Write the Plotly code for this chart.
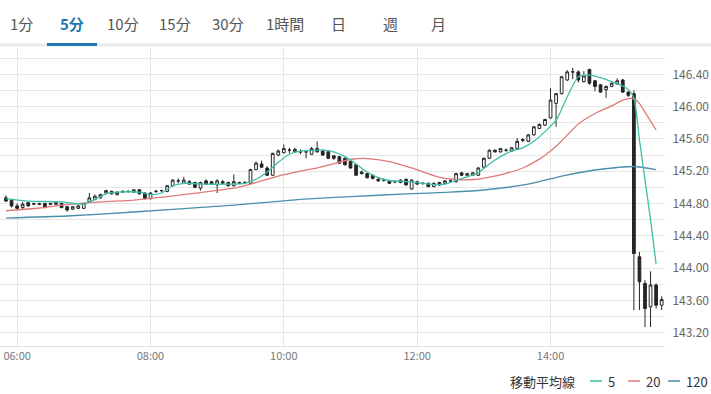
import plotly.graph_objects as go

DAY = "2024-04-29 "

# ---- candle data (5-minute bars) ----
start_times = []
h, m = 5, 50
for _ in range(119):
    start_times.append(f"{h:02d}:{m:02d}")
    m += 5
    if m == 60:
        h += 1
        m = 0
candle_time = [DAY + t for t in start_times]

open_ = [144.87,144.84,144.77,144.75,144.81,144.79,144.80,144.80,144.79,144.79,
         144.80,144.76,144.73,144.74,144.74,144.82,144.85,144.87,144.93,144.95,
         144.91,144.94,144.95,144.94,144.97,144.93,144.86,144.95,144.96,144.95,
         145.02,145.08,145.05,145.07,145.06,144.99,145.08,145.07,145.03,145.07,
         145.06,145.02,145.06,145.06,145.05,145.22,145.29,145.24,145.15,145.40,
         145.43,145.46,145.44,145.44,145.44,145.41,145.48,145.45,145.44,145.39,
         145.38,145.36,145.32,145.28,145.19,145.17,145.15,145.10,145.09,145.08,
         145.07,145.06,145.10,144.98,145.07,145.05,145.05,145.01,145.03,145.05,
         145.08,145.07,145.18,145.15,145.15,145.15,145.25,145.36,145.46,145.44,
         145.46,145.45,145.48,145.58,145.57,145.65,145.73,145.77,145.86,146.04,
         146.16,146.33,146.43,146.43,146.31,146.46,146.32,146.27,146.21,146.25,
         146.28,146.33,146.18,146.16,144.14,143.81,143.52,143.79,143.54]
high = [144.90,144.85,144.80,144.82,144.82,144.81,144.81,144.81,144.81,144.82,
        144.81,144.77,144.76,144.78,144.81,144.93,144.91,144.92,144.97,144.96,
        144.95,144.96,144.96,144.97,144.98,144.94,144.94,144.97,144.97,145.03,
        145.10,145.11,145.13,145.09,145.07,145.07,145.10,145.08,145.10,145.09,
        145.07,145.16,145.07,145.08,145.23,145.32,145.33,145.26,145.43,145.47,
        145.53,145.49,145.49,145.47,145.45,145.50,145.57,145.47,145.45,145.40,
        145.39,145.37,145.33,145.29,145.21,145.18,145.16,145.12,145.11,145.09,
        145.09,145.10,145.11,145.10,145.08,145.06,145.06,145.06,145.07,145.09,
        145.10,145.18,145.19,145.18,145.19,145.25,145.37,145.47,145.47,145.49,
        145.48,145.50,145.61,145.61,145.66,145.76,145.79,145.85,146.23,146.17,
        146.38,146.45,146.48,146.45,146.44,146.47,146.33,146.28,146.26,146.30,
        146.35,146.34,146.19,146.20,144.20,143.85,143.96,143.81,143.65]
low = [144.82,144.75,144.72,144.73,144.76,144.78,144.78,144.74,144.78,144.78,
       144.74,144.70,144.72,144.73,144.73,144.81,144.84,144.86,144.92,144.91,
       144.90,144.93,144.93,144.93,144.91,144.85,144.85,144.93,144.94,144.94,
       145.01,145.05,145.04,145.03,144.99,144.96,145.03,145.03,144.93,145.04,
       145.01,145.01,145.04,145.04,145.04,145.21,145.24,145.14,145.14,145.39,
       145.42,145.42,145.43,145.41,145.36,145.40,145.43,145.39,145.35,145.34,
       145.29,145.27,145.23,145.14,145.16,145.11,145.10,145.07,145.07,145.04,
       145.05,145.05,145.02,144.97,145.03,145.03,145.00,145.00,145.02,145.04,
       145.06,145.06,145.14,145.14,145.14,145.14,145.24,145.35,145.43,145.43,
       145.44,145.44,145.47,145.56,145.56,145.64,145.72,145.76,145.85,145.75,
       146.15,146.32,146.34,146.30,146.30,146.27,146.19,146.17,146.11,146.24,
       146.27,146.17,146.12,143.48,143.48,143.27,143.27,143.50,143.48]
close = [144.83,144.77,144.74,144.79,144.77,144.80,144.79,144.75,144.80,144.81,
         144.75,144.72,144.76,144.77,144.80,144.87,144.89,144.91,144.96,144.92,
         144.94,144.95,144.95,144.97,144.92,144.86,144.93,144.95,144.96,145.02,
         145.09,145.08,145.09,145.04,145.00,145.06,145.04,145.04,145.08,145.05,
         145.02,145.07,145.05,145.06,145.22,145.30,145.25,145.15,145.42,145.45,
         145.48,145.46,145.47,145.44,145.44,145.48,145.44,145.40,145.36,145.36,
         145.30,145.28,145.24,145.15,145.17,145.12,145.11,145.08,145.09,145.05,
         145.07,145.09,145.03,145.09,145.04,145.05,145.01,145.05,145.06,145.08,
         145.08,145.17,145.15,145.17,145.18,145.24,145.36,145.46,145.44,145.48,
         145.46,145.49,145.57,145.59,145.65,145.75,145.78,145.84,146.08,146.16,
         146.37,146.43,146.43,146.33,146.38,146.29,146.25,146.18,146.25,146.29,
         146.32,146.18,146.14,144.18,143.83,143.50,143.79,143.54,143.61]

# ---- moving averages ----
ma5_times = ["05:50","06:10","06:40","07:00","07:10","07:20","07:30","07:50","08:00",
             "08:10","08:20","08:30","08:50","09:10","09:25","09:35","09:45","09:55",
             "10:05","10:15","10:35","10:45","10:55","11:05","11:15","11:25","11:35",
             "11:55","12:15","12:25","12:35","12:45","12:55","13:05","13:15","13:25",
             "13:35","13:45","13:55","14:05","14:15","14:25","14:35","14:45","14:55",
             "15:05","15:10","15:15","15:20","15:25","15:30","15:35"]
ma5_vals = [144.86,144.83,144.82,144.79,144.85,144.92,144.94,144.94,144.91,
            144.93,145.02,145.05,145.04,145.04,145.05,145.10,145.19,145.31,
            145.41,145.45,145.46,145.44,145.38,145.29,145.19,145.12,145.085,
            145.067,145.035,145.04,145.085,145.13,145.18,145.29,145.38,145.45,
            145.49,145.57,145.69,145.83,146.12,146.37,146.39,146.36,146.31,
            146.255,146.21,146.11,145.59,145.09,144.60,144.05]

ma20_times = ["05:50","06:20","06:40","07:15","07:45","08:15","08:45","09:15","09:30",
              "09:55","10:35","11:00","11:15","11:35","11:55","12:20","12:35","12:50",
              "13:05","13:20","13:35","13:50","14:00","14:10","14:25","14:40","14:55",
              "15:05","15:10","15:15","15:20","15:25","15:30","15:35"]
ma20_vals = [144.71,144.744,144.78,144.82,144.843,144.884,144.936,144.99,145.04,
             145.14,145.258,145.345,145.357,145.32,145.24,145.125,145.097,145.097,
             145.128,145.174,145.24,145.35,145.45,145.574,145.785,145.915,146.01,
             146.08,146.10,146.10,146.04,145.93,145.82,145.71]

ma120_times = ["05:50","06:45","07:45","09:15","10:15","11:00","11:50","12:30","13:00",
               "13:40","14:10","14:40","15:00","15:15","15:35"]
ma120_vals = [144.62,144.645,144.695,144.78,144.85,144.886,144.918,144.94,144.967,
              145.04,145.14,145.215,145.246,145.258,145.22]

tabs = ["1分", "5分", "10分", "15分", "30分", "1時間", "日", "週", "月"]
tab_x = [22, 72, 123, 175, 228, 285, 338, 390, 438]
active_tab = "5分"

ytick_vals = [round(143.0 + 0.2 * k, 1) for k in range(19)]
ytick_text = [f"{v:.2f}" if round(v * 10) % 4 == 0 else "" for v in ytick_vals]

legend_title = "移動平均線"
legend_labels = ["5", "20", "120"]

C5, C20, C120 = "#3fbfa9", "#e07a78", "#4a8eab"
FONT = "Noto Sans CJK JP"

W, H = 711, 394
ML, MR, MT, MB = 0, 46, 48, 48
PW, PH = W - ML - MR, H - MT - MB

def px(x):
    return (x - ML) / PW

def py(y):
    return (H - MB - y) / PH

fig = go.Figure()
fig.add_trace(go.Candlestick(
    x=candle_time, open=open_, high=high, low=low, close=close,
    increasing=dict(fillcolor="#ffffff", line=dict(color="#262626", width=1)),
    decreasing=dict(fillcolor="#262626", line=dict(color="#262626", width=1)),
    whiskerwidth=0, hoverinfo="skip", showlegend=False,
))
for times, vals, col in [(ma120_times, ma120_vals, C120),
                         (ma20_times, ma20_vals, C20),
                         (ma5_times, ma5_vals, C5)]:
    fig.add_trace(go.Scatter(
        x=[DAY + t for t in times], y=vals, mode="lines",
        line=dict(color=col, width=1.3, shape="spline", smoothing=0.6),
        hoverinfo="skip", showlegend=False,
    ))

shapes = [
    dict(type="line", xref="paper", yref="paper", x0=px(0), x1=px(W), y0=py(45), y1=py(45),
         line=dict(color="#ebebeb", width=3)),
    dict(type="line", xref="paper", yref="paper", x0=px(47), x1=px(97), y0=py(44.5), y1=py(44.5),
         line=dict(color="#1e78b4", width=3)),
]
annotations = []
for t, x in zip(tabs, tab_x):
    active = t == active_tab
    annotations.append(dict(
        text=f"<b>{t}</b>" if active else t, x=px(x), y=py(24), xref="paper", yref="paper",
        showarrow=False, xanchor="center", yanchor="middle",
        font=dict(family=FONT, size=15, color="#1e78b4" if active else "#555555"),
    ))

annotations.append(dict(text=legend_title, x=px(577), y=py(381), xref="paper", yref="paper",
                        showarrow=False, xanchor="right", yanchor="middle",
                        font=dict(family=FONT, size=13, color="#333333")))
for (x0, lab, col) in [(590, legend_labels[0], C5), (628, legend_labels[1], C20),
                       (668, legend_labels[2], C120)]:
    shapes.append(dict(type="line", xref="paper", yref="paper", x0=px(x0), x1=px(x0 + 12),
                       y0=py(381), y1=py(381), line=dict(color=col, width=1.5)))
    annotations.append(dict(text=lab, x=px(x0 + 16), y=py(381), xref="paper", yref="paper",
                            showarrow=False, xanchor="left", yanchor="middle",
                            font=dict(family=FONT, size=13, color="#333333")))

fig.update_layout(
    width=W, height=H, margin=dict(l=ML, r=MR, t=MT, b=MB),
    paper_bgcolor="white", plot_bgcolor="white",
    font=dict(family=FONT, color="#666666"),
    showlegend=False, shapes=shapes, annotations=annotations,
    xaxis=dict(
        type="date", range=[DAY + "05:44:36", DAY + "15:43:00"],
        rangeslider=dict(visible=False),
        tick0=DAY + "06:00", dtick=7200000, tickformat="%H:%M",
        showgrid=True, gridcolor="#e6e6e6", gridwidth=1,
        showline=True, linecolor="#e0e0e0", zeroline=False, ticks="",
        tickfont=dict(family=FONT, size=11, color="#777777"),
    ),
    yaxis=dict(
        side="right", range=[143.035, 146.726],
        tickmode="array", tickvals=ytick_vals, ticktext=ytick_text,
        showgrid=True, gridcolor="#e6e6e6", gridwidth=1, zeroline=False,
        ticks="outside", ticklen=4, tickcolor="rgba(0,0,0,0)",
        tickfont=dict(family=FONT, size=12, color="#666666"),
    ),
)

fig.write_html("out.html")
